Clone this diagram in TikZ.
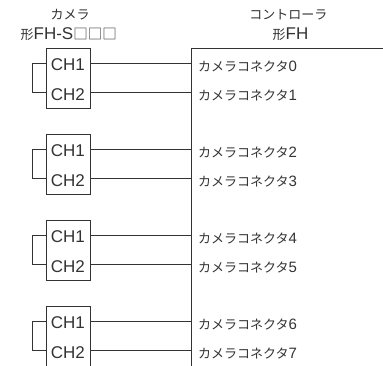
\documentclass[tikz,border=0pt]{standalone}
\usepackage{fontspec}
\setmainfont{Liberation Sans}
\newfontfamily\jpfont{Noto Sans CJK JP}
\usetikzlibrary{calc}
\colorlet{mygray}{black!80}
\tikzset{
  wire/.style={draw=mygray, line width=0.9pt},
  cambox/.style={draw=mygray, line width=0.9pt, minimum width=44.6, minimum height=60, inner sep=0, anchor=north west},
  chlabel/.style={anchor=base west, inner sep=0, text=mygray, font=\fontsize{17}{17}\selectfont},
  conlabel/.style={anchor=base west, inner sep=0, text=mygray, font=\fontsize{15}{15}\selectfont},
  title/.style={anchor=base, inner sep=0, text=mygray, font=\fontsize{17}{17}\selectfont}
}
\newcommand\jpt[1]{{\jpfont\fontsize{13}{13}\selectfont #1}}

\begin{document}
\begin{tikzpicture}[x=1pt,y=-1pt]
  \path[use as bounding box, clip] (0,0) rectangle (383,365);

  \pgfmathsetmacro\xc{191.7} % controller line
  \pgfmathsetmacro\dy{86}    % group spacing

  \coordinate (ctltop) at (\xc,48.3);
  \coordinate (ctlright) at (383,48.3);
  \coordinate (ctlbot) at (\xc,370);
  \draw[wire] (ctlright) -- (ctltop) -- (ctlbot);

  \node[title] (camname) at (70,19.5) {\jpt{カメラ}};
  \node[title] (camtype) at (68.7,39.5) {\jpt{形}FH-S{\jpfont\fontsize{14.5}{14.5}\selectfont □□□}};
  \node[title] (ctlname) at (288.3,19.5) {\jpt{コントローラ}};
  \node[title] (ctltype) at (290.5,39.5) {\jpt{形}FH};

  \foreach \k in {0,...,3} {
    \pgfmathsetmacro\ya{63+\dy*\k}
    \pgfmathsetmacro\yb{\ya+29.5}
    \pgfmathtruncatemacro\na{2*\k}
    \pgfmathtruncatemacro\nb{2*\k+1}
    \node[cambox] (cam\k) at (45.7,\ya-15) {};
    \node[chlabel] (cha\k) at (50.7,\ya+7.5) {CH1};
    \node[chlabel] (chb\k) at (50.7,\yb+7.5) {CH2};
    \coordinate (pa\k) at (\xc,\ya);
    \coordinate (pb\k) at (\xc,\yb);
    \draw[wire] (cam\k.east |- pa\k) -- (pa\k);
    \draw[wire] (cam\k.east |- pb\k) -- (pb\k);
    \draw[wire] (cam\k.west |- pa\k) -- ++(-13,0) |- (cam\k.west |- pb\k);
    \node[conlabel] (con\na) at ($(pa\k)+(6.3,8)$) {\jpt{カメラコネクタ}\na};
    \node[conlabel] (con\nb) at ($(pb\k)+(6.3,8)$) {\jpt{カメラコネクタ}\nb};
  }
\end{tikzpicture}
\end{document}
